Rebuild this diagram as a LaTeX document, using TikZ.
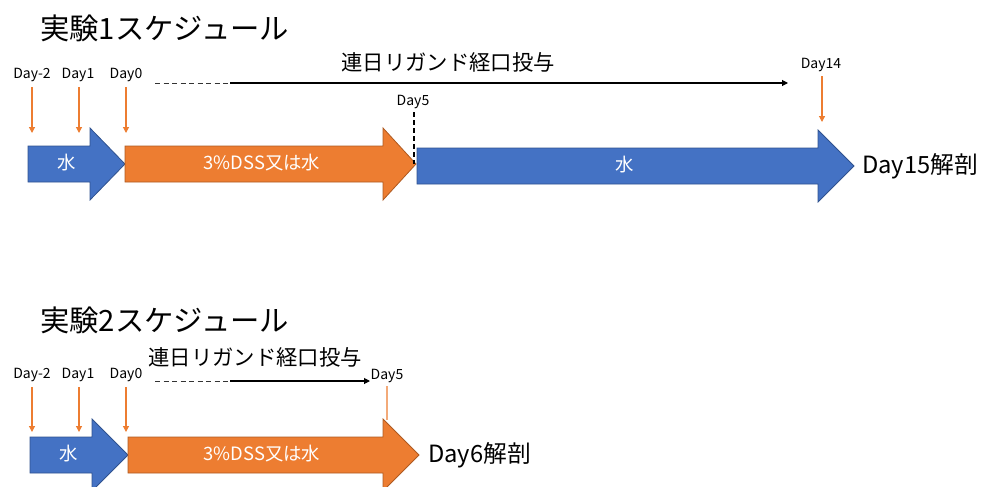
\documentclass[tikz,border=0pt]{standalone}
\usepackage{fontspec}
\setmainfont{Noto Sans CJK JP}
\usetikzlibrary{arrows.meta}
\definecolor{oblue}{HTML}{4472C4}
\definecolor{oblueb}{HTML}{2F528F}
\definecolor{oorange}{HTML}{ED7D31}
\definecolor{oorangeb}{HTML}{AE5A21}
\begin{document}
\begin{tikzpicture}[x=0.75pt,y=-0.75pt,
  bluearrow/.style={fill=oblue,draw=oblueb,line width=0.6pt},
  orangearrow/.style={fill=oorange,draw=oorangeb,line width=0.6pt},
  daylbl/.style={font=\fontsize{10.5}{11}\selectfont,inner sep=0pt},
  inlbl/.style={font=\fontsize{13.8}{15}\selectfont,text=white,inner sep=0pt},
  title/.style={font=\fontsize{22}{24}\selectfont,anchor=west,inner sep=0pt},
  adm/.style={font=\fontsize{16}{18}\selectfont,inner sep=0pt},
  endlbl/.style={font=\fontsize{17.8}{19}\selectfont,anchor=west,inner sep=0pt},
  dayarrow/.style={draw=oorange,line width=0.9pt,-{Triangle[length=4.5pt,width=4.5pt]}},
  admarrow/.style={draw=black,line width=0.8pt,-{Triangle[length=4.5pt,width=4.5pt]}},
  admdash/.style={draw=black!80,line width=0.75pt,dash pattern=on 3.8pt off 2.6pt}]
\useasboundingbox (0,0) rectangle (985,486);
% ===== Experiment 1 =====
\node[title] (t1) at (40,28) {実験1スケジュール};
\fill[bluearrow] (28,146) -- (90,146) -- (90,128) -- (125,164) -- (90,200) -- (90,182) -- (28,182) -- cycle;
\fill[orangearrow] (125,146) -- (383,146) -- (383,128) -- (416,164) -- (383,200) -- (383,182) -- (125,182) -- cycle;
\fill[bluearrow] (417,148) -- (818,148) -- (818,130) -- (854,166) -- (818,202) -- (818,184) -- (417,184) -- cycle;
\node[inlbl] (w1a) at (67,163) {水};
\node[inlbl] (d1) at (262,163) {3\%DSS又は水};
\node[inlbl] (w1b) at (625,165) {水};
\node[endlbl] (e1) at (862,166) {Day15解剖};

\node[daylbl] (a1) at (32,75) {Day-2};
\node[daylbl] (b1) at (78,75) {Day1};
\node[daylbl] (c1) at (126,75) {Day0};
\coordinate (a1e) at (32,133);
\coordinate (b1e) at (79,133);
\coordinate (c1e) at (126,133);
\draw[dayarrow] (a1.south -| a1e) ++(0,5) -- (a1e);
\draw[dayarrow] (b1.south -| b1e) ++(0,5) -- (b1e);
\draw[dayarrow] (c1.south -| c1e) ++(0,5) -- (c1e);

\node[adm] (m1) at (448,62) {連日リガンド経口投与};
\coordinate (m1s) at (155,83);
\coordinate (m1m) at (230,83);
\coordinate (m1d) at (298,83);
\coordinate (m1e) at (788,83);
\draw[admdash] (m1s) -- (m1d);
\draw[admarrow] (m1m) -- (m1e);

\node[daylbl] (f1) at (413,102) {Day5};
\coordinate (f1e) at (414,164);
\draw[draw=black,line width=1.1pt,dash pattern=on 3.5pt off 2.5pt] (f1.south -| f1e) ++(0,3) -- (f1e);

\node[daylbl] (g1) at (821,65) {Day14};
\coordinate (g1e) at (822,122);
\draw[dayarrow] (g1.south -| g1e) ++(0,4) -- (g1e);

% ===== Experiment 2 =====
\node[title] (t2) at (40,320) {実験2スケジュール};
\fill[bluearrow] (30,437) -- (92,437) -- (92,419) -- (128,455) -- (92,491) -- (92,473) -- (30,473) -- cycle;
\fill[orangearrow] (128,437) -- (383,437) -- (383,419) -- (419,455) -- (383,491) -- (383,473) -- (128,473) -- cycle;
\node[inlbl] (w2a) at (69,454) {水};
\node[inlbl] (d2) at (262,454) {3\%DSS又は水};
\node[endlbl] (e2) at (428,455) {Day6解剖};

\node[daylbl] (a2) at (32,375) {Day-2};
\node[daylbl] (b2) at (78,375) {Day1};
\node[daylbl] (c2) at (126,375) {Day0};
\coordinate (a2e) at (32,432);
\coordinate (b2e) at (79,432);
\coordinate (c2e) at (126,432);
\draw[dayarrow] (a2.south -| a2e) ++(0,5) -- (a2e);
\draw[dayarrow] (b2.south -| b2e) ++(0,5) -- (b2e);
\draw[dayarrow] (c2.south -| c2e) ++(0,5) -- (c2e);

\node[adm] (m2) at (255,357) {連日リガンド経口投与};
\coordinate (m2s) at (155,381);
\coordinate (m2m) at (230,381);
\coordinate (m2d) at (298,381);
\coordinate (m2e) at (370,381);
\draw[admdash] (m2s) -- (m2d);
\draw[admarrow] (m2m) -- (m2e);

\node[daylbl] (f2) at (387,376) {Day5};
\coordinate (f2e) at (387,420);
\draw[draw=oorange!65,line width=0.9pt] (f2.south -| f2e) ++(0,3) -- (f2e);
\end{tikzpicture}
\end{document}
